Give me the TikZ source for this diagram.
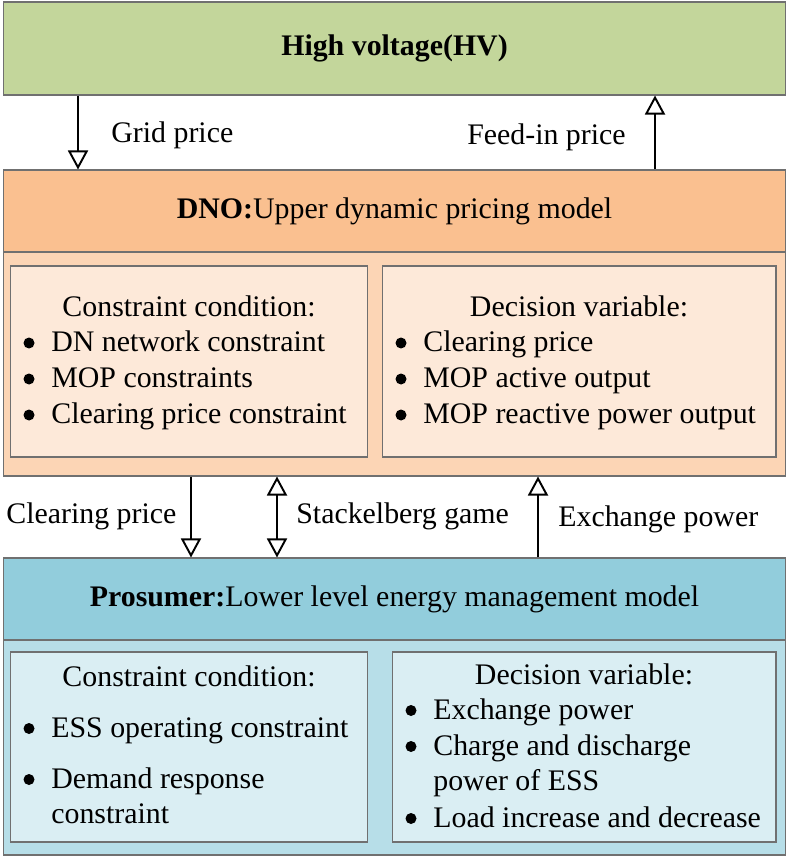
\documentclass[tikz,border=0pt]{standalone}
\usepackage{fontspec}
\setmainfont{Liberation Serif}
\usepackage{tikz}
\usetikzlibrary{arrows.meta}

\definecolor{hvgreen}{HTML}{C3D69B}
\definecolor{dnohead}{HTML}{FAC090}
\definecolor{dnobody}{HTML}{FCD5B5}
\definecolor{dnoin}{HTML}{FDE9D9}
\definecolor{prohead}{HTML}{92CDDC}
\definecolor{probody}{HTML}{B7DEE8}
\definecolor{proin}{HTML}{DAEEF3}
\definecolor{boxline}{HTML}{707070}

\tikzset{
  box/.style={draw=boxline, line width=0.6pt, inner sep=0pt},
  txt/.style={inner sep=0pt, anchor=base west},
  link/.style={line width=1.1pt}
}

\begin{document}
\begin{tikzpicture}[x=0.02cm, y=-0.02cm, >={Triangle[length=0.38cm, width=0.4cm, fill=white]},
    font=\fontsize{17pt}{20.7pt}\selectfont]
    \useasboundingbox (0,0) rectangle (789,857);

    % three levels
    \node[box, fill=hvgreen, minimum width=15.66cm, minimum height=1.86cm, font=\fontsize{17pt}{20.7pt}\selectfont\bfseries] (hv) at (394.5,48.5) {High voltage(HV)};
    \node[box, fill=dnobody, minimum width=15.66cm, minimum height=4.48cm] (dnob) at (394.5,364) {};
    \node[box, fill=dnohead, minimum width=15.66cm, minimum height=1.64cm] (dnoh) at (394.5,211) {\textbf{DNO:}Upper dynamic pricing model};
    \node[box, fill=probody, minimum width=15.66cm, minimum height=4.3cm] (prob) at (394.5,747.5) {};
    \node[box, fill=prohead, minimum width=15.66cm, minimum height=1.64cm] (proh) at (394.5,599) {\textbf{Prosumer:}Lower level energy management model};

    % inner boxes
    \node[box, fill=dnoin, minimum width=7.16cm, minimum height=3.82cm] (dnol) at (189,361.5) {};
    \node[box, fill=dnoin, minimum width=7.88cm, minimum height=3.82cm] (dnor) at (579,361.5) {};
    \node[box, fill=proin, minimum width=7.16cm, minimum height=3.8cm] (prol) at (189,747) {};
    \node[box, fill=proin, minimum width=7.68cm, minimum height=3.8cm] (pror) at (584,747) {};

    \node[txt, anchor=base] (dnolt) at (189,317) {Constraint condition:};
    \foreach \t [count=\i] in {DN network constraint, MOP constraints, Clearing price constraint}
        \node[txt] (dnol\i) at (51,{315.5+36*\i}) {\t};
    \node[txt, anchor=base] (dnort) at (579,317) {Decision variable:};
    \foreach \t [count=\i] in {Clearing price, MOP active output, MOP reactive power output}
        \node[txt] (dnor\i) at (423,{315.5+36*\i}) {\t};

    \node[txt, anchor=base] (prolt) at (189,686) {Constraint condition:};
    \node[txt] (prol1) at (51,737) {ESS operating constraint};
    \node[txt] (prol2) at (51,788) {Demand response};
    \node[txt] (prol3) at (51,823) {constraint};
    \node[txt, anchor=base] (prort) at (584,684) {Decision variable:};
    \node[txt] (pror1) at (433,719) {Exchange power};
    \node[txt] (pror2) at (433,755) {Charge and discharge};
    \node[txt] (pror3) at (433,790) {power of ESS};
    \node[txt] (pror4) at (433,827) {Load increase and decrease};

    % bullets
    \foreach \n in {dnol1, dnol2, dnol3, dnor1, dnor2, dnor3, prol1, prol2, pror1, pror2, pror4}
        \fill ([shift={(-0.44cm,0.17cm)}]\n.base west) circle (0.11cm);

    % arrows between levels
    \coordinate (gp) at (78,0);
    \coordinate (fp) at (655,0);
    \coordinate (cp) at (191,0);
    \coordinate (sg) at (277,0);
    \coordinate (ep) at (538,0);
    \draw[link, ->] (hv.south -| gp) -- (dnoh.north -| gp);
    \draw[link, ->] (dnoh.north -| fp) -- (hv.south -| fp);
    \draw[link, ->] (dnob.south -| cp) -- (proh.north -| cp);
    \draw[link, <->] (dnob.south -| sg) -- (proh.north -| sg);
    \draw[link, ->] (proh.north -| ep) -- (dnob.south -| ep);

    \node[txt] (gplbl) at (111,143) {Grid price};
    \node[txt, anchor=base east] (fplbl) at (626,145) {Feed-in price};
    \node[txt] (cplbl) at (6,523) {Clearing price};
    \node[txt] (sglbl) at (296,523) {Stackelberg game};
    \node[txt] (eplbl) at (558,526) {Exchange power};
\end{tikzpicture}
\end{document}
